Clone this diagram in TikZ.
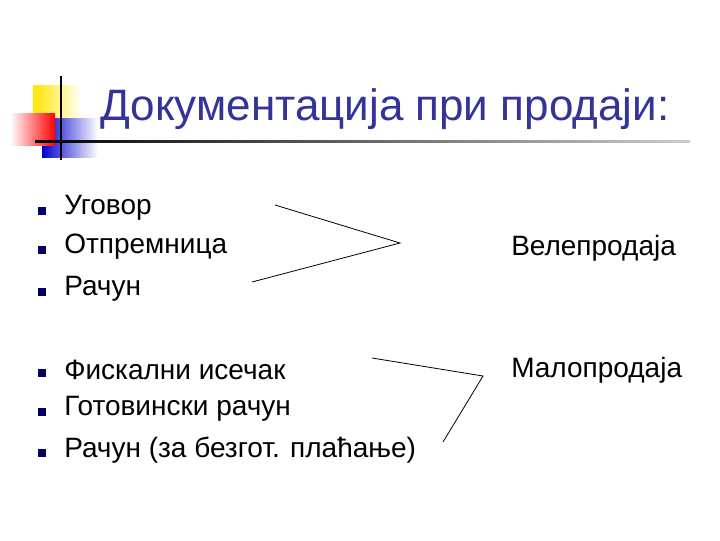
\documentclass[tikz,border=0pt]{standalone}
\usepackage{fontspec}
\setmainfont{Liberation Sans}
\begin{document}
\begin{tikzpicture}[x=0.75pt,y=-0.75pt,
  txt/.style={anchor=west,font=\fontsize{21}{24}\selectfont,inner sep=0pt},
  bul/.style={fill=blue!40!black,minimum size=6.5pt,inner sep=0pt},
  ln/.style={black,line width=0.6pt}]
\definecolor{tb}{RGB}{51,51,153}
\useasboundingbox (0,0) rectangle (720,540);
\fill[left color=yellow!80!orange,right color=white] (33,85) rectangle (82,118);
\fill[left color=blue!80!black,right color=white] (42,118) rectangle (98,157);
\fill[left color=white,right color=red] (10,113) rectangle (55,145);
\draw[line width=2pt] (61,76) -- (61,160);
\shade[left color=black,right color=gray!40] (35,140) rectangle (690,142.5);
\node[anchor=base west,inner sep=0pt,text=tb,font=\fontsize{33}{38}\selectfont] (t) at (100,120) {Документација при продаји:};
\foreach \y/\n/\s in {208/a/Уговор,247/b/Отпремница,289/c/Рачун,370/d/Фискални исечак,409/e/Готовински рачун,450/f/Рачун (за безгот. плаћање)}{
  \node[bul] (b\n) at (42,\y+3) {};
  \node[txt] (\n) at (64,\y) {\s};
}
\node[txt] (w) at (511,248) {Велепродаја};
\node[txt] (m) at (511,370) {Малопродаја};
\coordinate (p1) at (275,205); \coordinate (p2) at (400,243); \coordinate (p3) at (252,282);
\coordinate (q1) at (372,358); \coordinate (q2) at (483,376); \coordinate (q3) at (443,442);
\draw[ln] (p1) -- (p2) -- (p3);
\draw[ln] (q1) -- (q2) -- (q3);
\end{tikzpicture}
\end{document}
